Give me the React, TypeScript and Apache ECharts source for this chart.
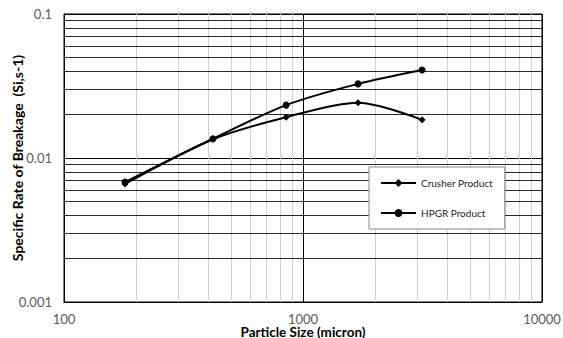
import React, { useEffect, useRef } from "react";
import * as echarts from "echarts";

const particleSizes = [180, 420, 850, 1700, 3150];
const crusherProduct = [0.0066, 0.0135, 0.0192, 0.0242, 0.0184];
const hpgrProduct = [0.0068, 0.0136, 0.0233, 0.0327, 0.0408];
const minorXGrid = [200, 300, 400, 500, 600, 700, 800, 900, 2000, 3000, 4000, 5000, 6000, 7000, 8000, 9000];
const minorYGrid = [0.002, 0.003, 0.004, 0.005, 0.006, 0.007, 0.008, 0.009, 0.02, 0.03, 0.04, 0.05, 0.06, 0.07, 0.08, 0.09];
const xRange = [100, 10000];
const yRange = [0.001, 0.1];

const FONT = "Lato, 'Open Sans', sans-serif";

const fmt = (v: number) => String(Number(v.toPrecision(3)));

export default function App() {
  const ref = useRef<HTMLDivElement>(null);
  useEffect(() => {
    if (!ref.current) return;
    const chart = echarts.init(ref.current, undefined, { renderer: "svg" });
    chart.setOption({
      animation: false,
      backgroundColor: "#fff",
      grid: {
        left: 64, top: 14, right: 21, bottom: 36,
        show: true, borderColor: "#000", borderWidth: 1,
        containLabel: false, outerBoundsMode: "none",
      },
      xAxis: {
        type: "log",
        logBase: 10,
        min: xRange[0],
        max: xRange[1],
        name: "Particle Size (micron)",
        nameLocation: "middle",
        nameGap: 23,
        nameMoveOverlap: false,
        nameTextStyle: { fontFamily: FONT, fontWeight: "bold", fontSize: 13.5, lineHeight: 13, color: "#000" },
        axisLine: { show: true, lineStyle: { color: "#000" } },
        axisTick: { show: false },
        axisLabel: { formatter: fmt, fontFamily: FONT, fontSize: 13, lineHeight: 11, color: "#595959", margin: 11 },
        splitLine: { show: true, lineStyle: { color: "#000", width: 1 } },
      },
      yAxis: {
        type: "log",
        logBase: 10,
        min: yRange[0],
        max: yRange[1],
        name: "Specific Rate of Breakage  (Si,s-1)",
        nameLocation: "middle",
        nameGap: 40,
        nameMoveOverlap: false,
        nameTextStyle: { fontFamily: FONT, fontWeight: "bold", fontSize: 14, color: "#000" },
        axisLine: { show: true, lineStyle: { color: "#000" } },
        axisTick: { show: false },
        axisLabel: { formatter: fmt, fontFamily: FONT, fontSize: 13, color: "#595959", margin: 12 },
        splitLine: { show: true, lineStyle: { color: "#000", width: 1 } },
      },
      legend: {
        data: ["Crusher Product", "HPGR Product"],
        orient: "vertical",
        left: 369,
        top: 167,
        itemWidth: 35,
        itemHeight: 10,
        itemGap: 20,
        padding: [11, 12, 11, 11],
        backgroundColor: "#fff",
        borderColor: "#888",
        borderWidth: 1,
        textStyle: { fontFamily: FONT, fontSize: 10, color: "#222" },
      },
      series: [
        {
          name: "minorX",
          type: "lines",
          coordinateSystem: "cartesian2d",
          z: 1,
          silent: true,
          lineStyle: { color: "#cfcfcf", width: 1, opacity: 1 },
          data: minorXGrid.map((v) => ({ coords: [[v, yRange[0]], [v, yRange[1]]] })),
        },
        {
          name: "minorY",
          type: "lines",
          coordinateSystem: "cartesian2d",
          z: 1,
          silent: true,
          lineStyle: { color: "#2a2a2a", width: 1, opacity: 1 },
          data: minorYGrid.map((v) => ({ coords: [[xRange[0], v], [xRange[1], v]] })),
        },
        {
          name: "Crusher Product",
          type: "line",
          z: 3,
          smooth: 0.3,
          data: particleSizes.map((x, i) => [x, crusherProduct[i]]),
          symbol: "diamond",
          symbolSize: 7,
          itemStyle: { color: "#000" },
          lineStyle: { color: "#000", width: 2 },
        },
        {
          name: "HPGR Product",
          type: "line",
          z: 3,
          smooth: 0.3,
          data: particleSizes.map((x, i) => [x, hpgrProduct[i]]),
          symbol: "circle",
          symbolSize: 7,
          itemStyle: { color: "#000" },
          lineStyle: { color: "#000", width: 2 },
        },
      ],
    });
    return () => chart.dispose();
  }, []);
  return <div ref={ref} style={{ width: 563, height: 338, position: "absolute", left: 0, top: 0 }} />;
}
